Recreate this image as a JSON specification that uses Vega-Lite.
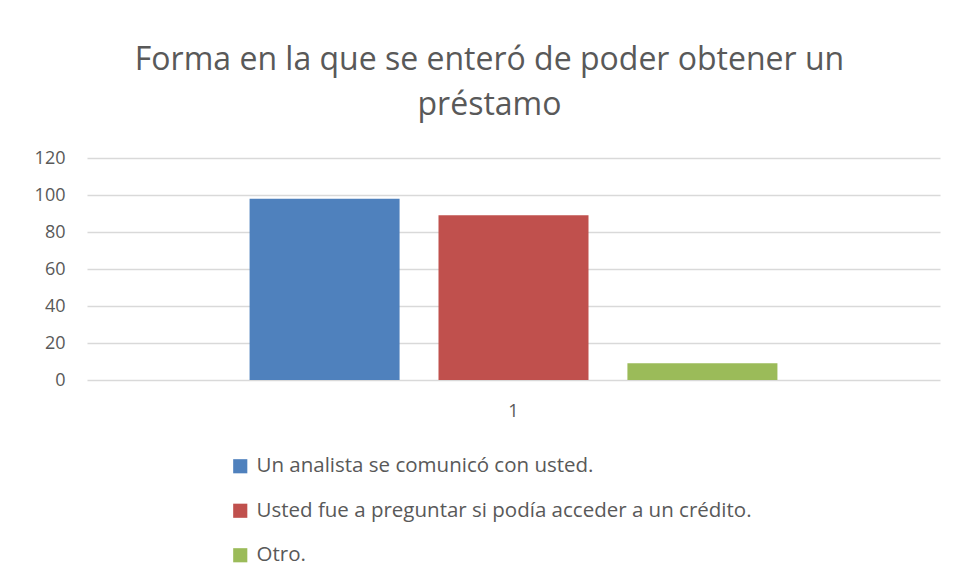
{
  "$schema": "https://vega.github.io/schema/vega-lite/v6.json",
  "width": 853,
  "height": 222,
  "autosize": {"type": "none"},
  "padding": {"left": 87, "top": 158, "right": 15, "bottom": 202},
  "background": "white",
  "title": {
    "text": ["Forma en la que se enteró de poder obtener un", "préstamo"],
    "fontSize": 32,
    "font": "Open Sans",
    "fontWeight": "normal",
    "color": "#595959",
    "lineHeight": 45,
    "anchor": "middle",
    "dx": -24,
    "offset": 27
  },
  "data": {
    "values": [
      {"cat": "1", "serie": "Un analista se comunicó con usted.", "valor": 98},
      {"cat": "1", "serie": "Usted fue a preguntar si podía acceder a un crédito.", "valor": 89},
      {"cat": "1", "serie": "Otro.", "valor": 9}
    ]
  },
  "mark": {"type": "bar"},
  "encoding": {
    "x": {
      "field": "cat",
      "type": "nominal",
      "scale": {"paddingInner": 0, "paddingOuter": 0.308},
      "axis": {"title": null, "labelAngle": 0, "ticks": false, "domain": false, "labelFontSize": 18, "labelColor": "#595959", "labelFont": "Open Sans", "labelPadding": 22}
    },
    "xOffset": {
      "field": "serie",
      "type": "nominal",
      "sort": null,
      "scale": {"paddingInner": 0.206, "paddingOuter": 0}
    },
    "y": {
      "field": "valor",
      "type": "quantitative",
      "scale": {"domain": [0, 120]},
      "axis": {"title": null, "values": [0, 20, 40, 60, 80, 100, 120], "domain": false, "ticks": false, "gridColor": "#d9d9d9", "gridWidth": 1.3, "labelFontSize": 18, "labelColor": "#595959", "labelFont": "Open Sans", "labelPadding": 22}
    },
    "color": {
      "field": "serie",
      "type": "nominal",
      "sort": null,
      "scale": {
        "domain": ["Un analista se comunicó con usted.", "Usted fue a preguntar si podía acceder a un crédito.", "Otro."],
        "range": ["#4f81bd", "#c0504d", "#9bbb59"]
      },
      "legend": {
        "title": null,
        "orient": "none",
        "legendX": 143,
        "legendY": 298,
        "direction": "vertical",
        "symbolType": "square",
        "symbolSize": 200,
        "symbolStrokeWidth": 0,
        "labelFontSize": 20.5,
        "labelFont": "Open Sans",
        "labelColor": "#595959",
        "rowPadding": 23.5,
        "labelLimit": 700,
        "labelOffset": 6
      }
    }
  },
  "config": {"view": {"stroke": null}}
}
